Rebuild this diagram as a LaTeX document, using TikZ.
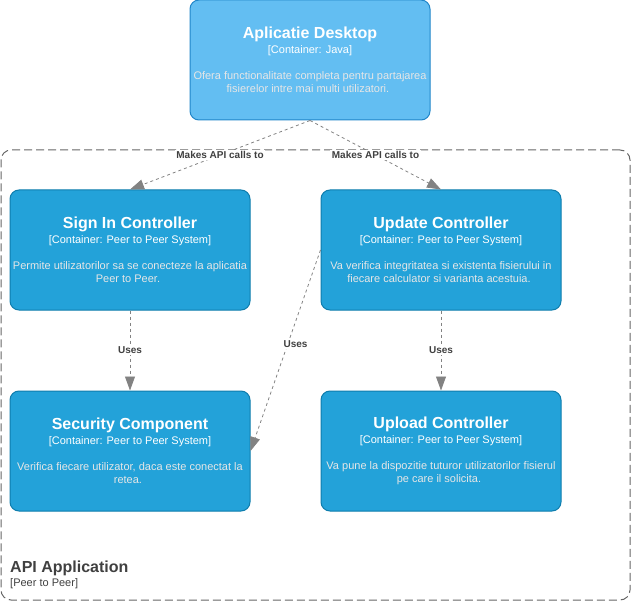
\documentclass[tikz,border=0pt]{standalone}
\usepackage{fontspec}
\setmainfont{Liberation Sans}
\usepackage{xcolor}
\usepackage{tikz}
\usetikzlibrary{arrows.meta,positioning}

\definecolor{contfill}{HTML}{23A2D9}
\definecolor{contline}{HTML}{0E7DAD}
\definecolor{appfill}{HTML}{63BEF2}
\definecolor{appline}{HTML}{2086C9}
\definecolor{descgray}{HTML}{E6E6E6}
\definecolor{relgray}{HTML}{828282}
\definecolor{lblgray}{HTML}{404040}
\definecolor{bndgray}{HTML}{666666}

\begin{document}
\begin{tikzpicture}[x=1pt, y=1pt, node distance=80pt and 70pt,
    container/.style={rectangle, draw=contline, fill=contfill, line width=1pt, rounded corners=9pt, minimum width=240pt, minimum height=120pt, inner sep=0pt, align=center, text=white, font=\fontsize{11}{13}\selectfont},
    desktopbox/.style={container, draw=appline, fill=appfill},
    boundary/.style={rectangle, draw=bndgray, line width=1pt, dash pattern=on 8pt off 4pt, rounded corners=10pt, minimum width=629pt, minimum height=450pt, inner sep=0pt},
    rel/.style={draw=relgray, line width=0.8pt, dash pattern=on 3pt off 3pt, -{Triangle[length=14pt, width=10pt, fill=relgray]}},
    lbl/.style={fill=white, inner sep=1.5pt, text=lblgray, font=\fontsize{10}{12}\selectfont\bfseries}]

    \useasboundingbox (0,0) rectangle (631,-601);

    % boundary of the API application
    \node[boundary] (api) at (315.5,-375) {};
    \node[anchor=base west, text=lblgray, font=\fontsize{16}{19}\selectfont\bfseries, inner sep=0pt] (apititle) at (10,-572) {API Application};
    \node[anchor=base west, text=lblgray, font=\fontsize{11}{13}\selectfont, inner sep=0pt] (apitype) at (10,-586) {[Peer to Peer]};

    \node[desktopbox] (desktop) at (310,-60) {
        {\fontsize{16}{19}\selectfont\bfseries Aplicatie Desktop}\\[1.5pt]
        [Container: Java]\\[13pt]
        \color{descgray}Ofera functionalitate completa pentru partajarea\\
        \color{descgray}fisierelor intre mai multi utilizatori.
    };

    \node[container] (signin) at (130,-250) {
        {\fontsize{16}{19}\selectfont\bfseries Sign In Controller}\\[1.5pt]
        [Container: Peer to Peer System]\\[13pt]
        \color{descgray}Permite utilizatorilor sa se conecteze la aplicatia\\
        \color{descgray}Peer to Peer.
    };
    \node[container, right=of signin] (update) {
        {\fontsize{16}{19}\selectfont\bfseries Update Controller}\\[1.5pt]
        [Container: Peer to Peer System]\\[13pt]
        \color{descgray}Va verifica integritatea si existenta fisierului in\\
        \color{descgray}fiecare calculator si varianta acestuia.
    };
    \node[container, below=of signin] (security) {
        {\fontsize{16}{19}\selectfont\bfseries Security Component}\\[1.5pt]
        [Container: Peer to Peer System]\\[13pt]
        \color{descgray}Verifica fiecare utilizator, daca este conectat la\\
        \color{descgray}retea.
    };
    \node[container, below=of update] (upload) {
        {\fontsize{16}{19}\selectfont\bfseries Upload Controller}\\[1.5pt]
        [Container: Peer to Peer System]\\[13pt]
        \color{descgray}Va pune la dispozitie tuturor utilizatorilor fisierul\\
        \color{descgray}pe care il solicita.
    };

    \draw[rel] (desktop.south) -- (signin.north) node[midway, lbl] {Makes API calls to};
    \draw[rel] (desktop.south) -- (update.north) node[midway, lbl] {Makes API calls to};
    \draw[rel] (signin) -- (security) node[midway, lbl] {Uses};
    \draw[rel] (update.west) -- (security.east) node[pos=0.47, xshift=8pt, lbl] {Uses};
    \draw[rel] (update) -- (upload) node[midway, lbl] {Uses};

\end{tikzpicture}
\end{document}
